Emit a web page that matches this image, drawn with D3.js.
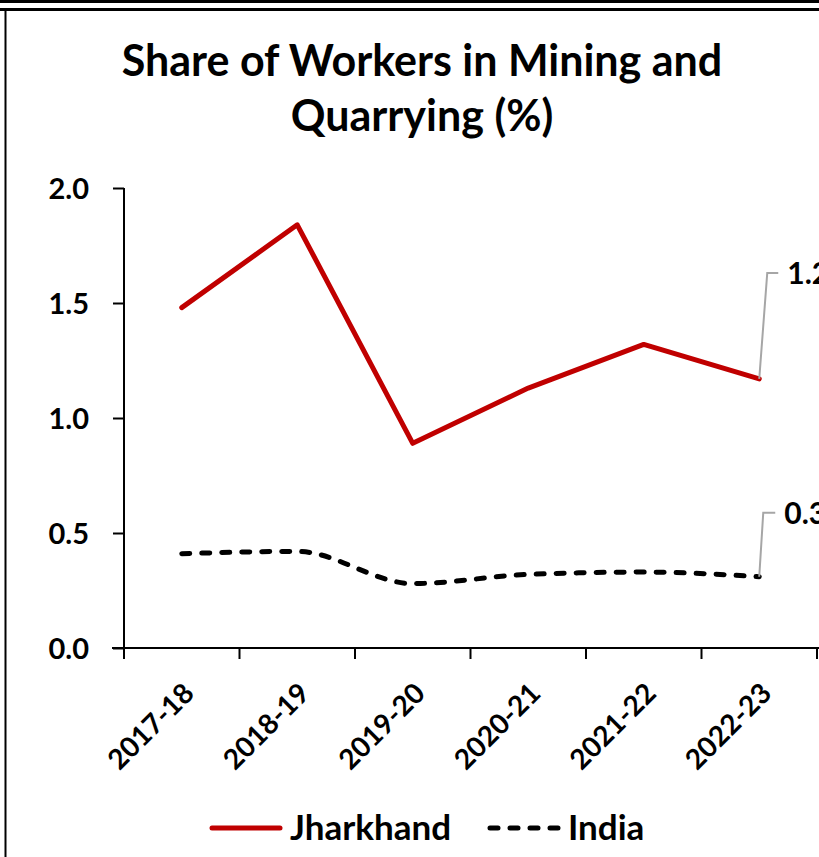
<!DOCTYPE html>
<html>
<head>
<meta charset="utf-8">
<script src="https://cdn.jsdelivr.net/npm/d3@7"></script>
<style>
  body { margin: 0; background: #fff; overflow: hidden; }
  svg { display: block; font-family: Lato, "Open Sans", sans-serif; font-weight: bold; }
</style>
</head>
<body>
<svg id="chart" width="819" height="857"></svg>
<script>
var years = ["2017-18", "2018-19", "2019-20", "2020-21", "2021-22", "2022-23"];
var jharkhand = [1.48, 1.84, 0.89, 1.13, 1.32, 1.17];
var india = [0.41, 0.42, 0.28, 0.32, 0.33, 0.31];
var yTicks = [0, 0.5, 1.0, 1.5, 2.0];

var svg = d3.select("#chart");

var x = d3.scaleBand().domain(years).range([124, 817]);
var y = d3.scaleLinear().domain([0, 2]).range([648, 188]);
var cx = (d) => x(d) + x.bandwidth() / 2;

// frame
svg.append("line").attr("x1", 0).attr("x2", 819).attr("y1", 1.5).attr("y2", 1.5)
    .attr("stroke", "#000").attr("stroke-width", 3);
svg.append("line").attr("x1", 0).attr("x2", 819).attr("y1", 9.5).attr("y2", 9.5)
    .attr("stroke", "#000").attr("stroke-width", 3);
svg.append("line").attr("x1", 5.5).attr("x2", 5.5).attr("y1", 9).attr("y2", 857)
    .attr("stroke", "#000").attr("stroke-width", 2);

// title
var title = svg.append("text")
    .attr("text-anchor", "middle")
    .attr("font-size", 43)
    .attr("fill", "#000");
title.append("tspan").attr("x", 422).attr("y", 76).text("Share of Workers in Mining and");
title.append("tspan").attr("x", 422).attr("y", 131).text("Quarrying (%)");

// y axis
var yAxis = svg.append("g")
    .attr("transform", "translate(124,0)")
    .call(d3.axisLeft(y).tickValues(yTicks).tickFormat(d3.format(".1f")).tickSize(11).tickPadding(24));
yAxis.attr("font-family", null).attr("font-size", null);
yAxis.select(".domain").remove();
yAxis.selectAll("line").attr("stroke", "#000").attr("stroke-width", 2);
yAxis.selectAll("text").attr("font-size", 29).attr("fill", "#000")
    .attr("dy", "0.36em");
svg.append("line").attr("x1", 124).attr("x2", 124).attr("y1", y(2)).attr("y2", y(0) + 11)
    .attr("stroke", "#000").attr("stroke-width", 2);

// x axis
svg.append("line").attr("x1", 112).attr("x2", 819).attr("y1", y(0)).attr("y2", y(0))
    .attr("stroke", "#000").attr("stroke-width", 2);
var bounds = years.map((d) => x(d)).concat([x.range()[1]]);
svg.selectAll(".xtick").data(bounds).enter().append("line")
    .attr("x1", (d) => d).attr("x2", (d) => d)
    .attr("y1", y(0)).attr("y2", y(0) + 11)
    .attr("stroke", "#000").attr("stroke-width", 2);
svg.selectAll(".xlabel").data(years).enter().append("text")
    .attr("transform", (d) => "translate(" + (cx(d) + 14) + "," + (y(0) + 47) + ") rotate(-45)")
    .attr("text-anchor", "end")
    .attr("font-size", 28)
    .text((d) => d);

// lines
var jLine = d3.line().x((d, i) => cx(years[i])).y((d) => y(d));
var iLine = d3.line().x((d, i) => cx(years[i])).y((d) => y(d)).curve(d3.curveMonotoneX);

svg.append("path").datum(jharkhand)
    .attr("d", jLine)
    .attr("fill", "none").attr("stroke", "#C00000").attr("stroke-width", 5)
    .attr("stroke-linejoin", "round").attr("stroke-linecap", "round");
svg.append("path").datum(india)
    .attr("d", iLine)
    .attr("fill", "none").attr("stroke", "#000").attr("stroke-width", 5)
    .attr("stroke-dasharray", "8,12").attr("stroke-linecap", "round");

// data labels with leader lines (text runs past the right edge, as in the source)
var last = years.length - 1;
var labels = [
    { v: jharkhand[last], dx: 8, dy: -106, tx: 19 },
    { v: india[last], dx: 4, dy: -64, tx: 16 }
];
labels.forEach(function (l) {
    var px = cx(years[last]), py = y(l.v);
    svg.append("polyline")
        .attr("points", [[px, py], [px + l.dx, py + l.dy], [px + l.tx, py + l.dy]].map((p) => p.join(",")).join(" "))
        .attr("fill", "none").attr("stroke", "#A6A6A6").attr("stroke-width", 2);
    svg.append("text")
        .attr("x", px + l.tx + 9).attr("y", py + l.dy + 11)
        .attr("font-size", 30)
        .text(d3.format(".1f")(l.v));
});

// legend
var legend = [
    { name: "Jharkhand", color: "#C00000", dash: null, x: 212 },
    { name: "India", color: "#000", dash: "8,12", x: 490 }
];
legend.forEach(function (l) {
    svg.append("line").attr("x1", l.x).attr("x2", l.x + 68).attr("y1", 828).attr("y2", 828)
        .attr("stroke", l.color).attr("stroke-width", 5).attr("stroke-linecap", "round")
        .attr("stroke-dasharray", l.dash);
    svg.append("text").attr("x", l.x + 78).attr("y", 840).attr("font-size", 35).text(l.name);
});
</script>
</body>
</html>
